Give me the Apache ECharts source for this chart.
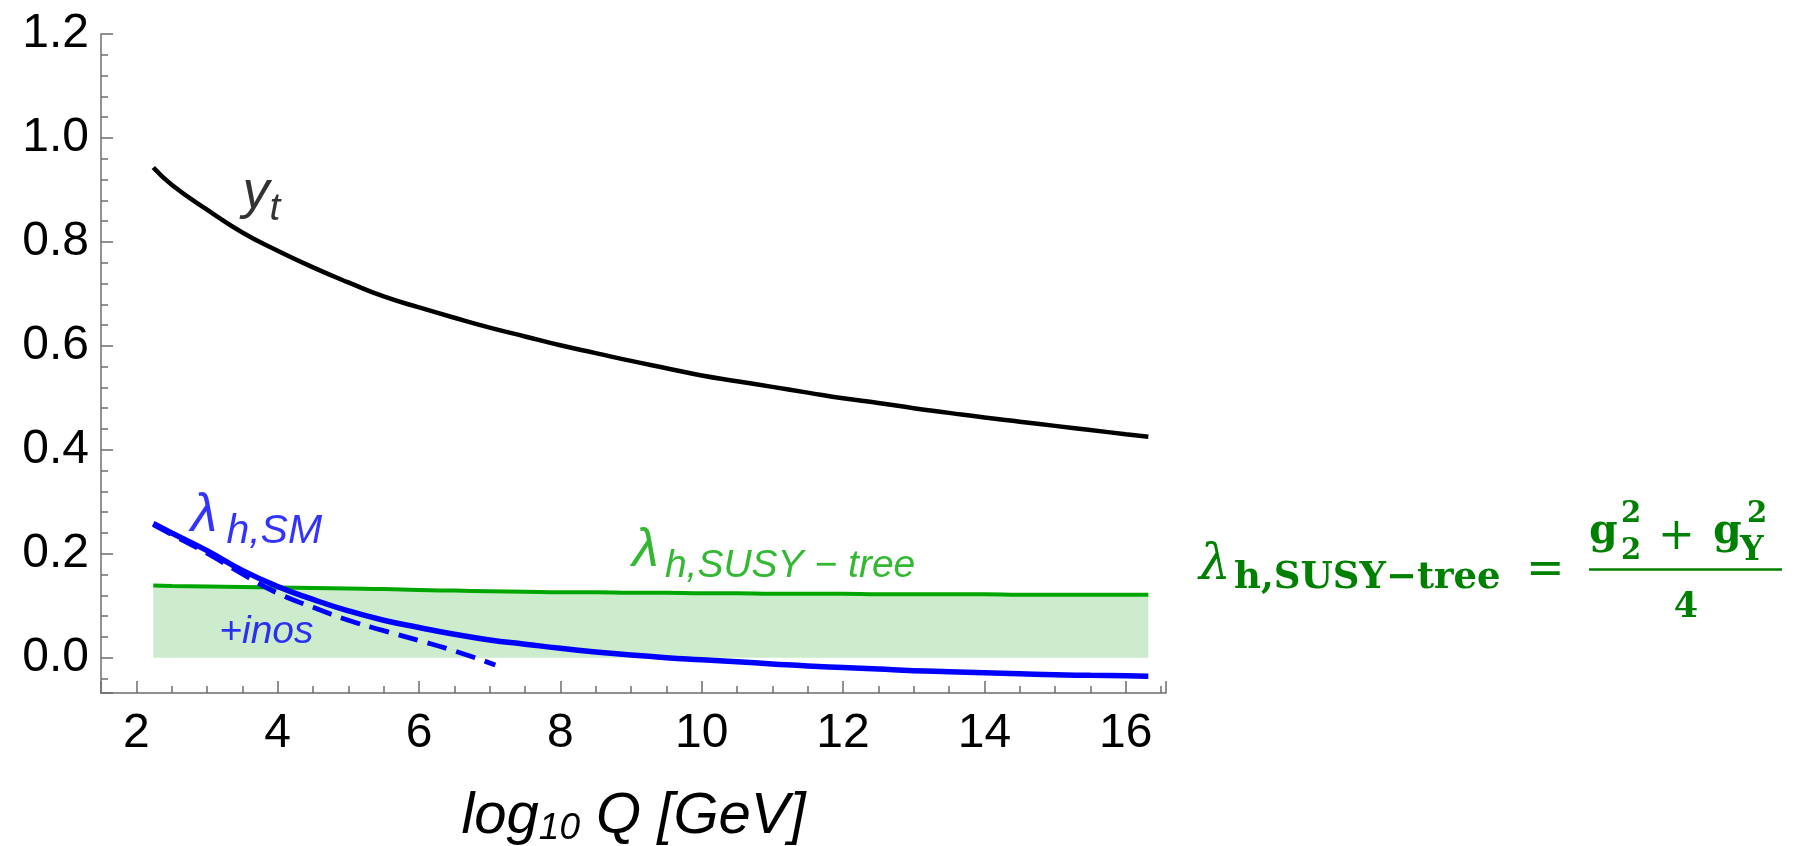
<!DOCTYPE html>
<html>
<head>
<meta charset="utf-8">
<script src="https://cdn.jsdelivr.net/npm/echarts@6/dist/echarts.min.js"></script>
<style>
  html, body { margin: 0; padding: 0; background: #ffffff; }
  #chart { width: 1810px; height: 846px; }
</style>
</head>
<body>
<div id="chart"></div>
<script>
// Running couplings versus the renormalisation scale log10(Q / GeV)
const logQ = [2.24, 2.5, 3.0, 3.5, 4.0, 4.5, 5.0, 5.5, 6.0, 6.5, 7.0, 7.5, 8.0, 8.5, 9.0,
              9.5, 10.0, 10.5, 11.0, 11.5, 12.0, 12.5, 13.0, 13.5, 14.0, 14.5, 15.0, 15.5, 16.0, 16.32];

// top Yukawa coupling y_t
const yTop = [0.943, 0.910, 0.862, 0.818, 0.783, 0.751, 0.722, 0.695, 0.674, 0.654, 0.635, 0.618, 0.601, 0.586, 0.571,
              0.557, 0.543, 0.532, 0.521, 0.510, 0.499, 0.490, 0.480, 0.471, 0.462, 0.454, 0.446, 0.438, 0.430, 0.425];

// SM Higgs quartic
const lambdaSM = [0.258, 0.240, 0.206, 0.168, 0.137, 0.112, 0.090, 0.072, 0.058, 0.045, 0.034, 0.026, 0.018, 0.011, 0.005,
                  0.000, -0.004, -0.008, -0.012, -0.016, -0.019, -0.022, -0.025, -0.027, -0.029, -0.031, -0.033, -0.034, -0.035, -0.036];

// tree-level SUSY boundary value (g2^2 + gY^2)/4
const lambdaTree = [0.139, 0.138, 0.137, 0.136, 0.135, 0.134, 0.133, 0.132, 0.130, 0.129, 0.128, 0.127, 0.126, 0.126, 0.125,
                    0.125, 0.124, 0.124, 0.123, 0.123, 0.123, 0.122, 0.122, 0.122, 0.122, 0.121, 0.121, 0.121, 0.121, 0.121];

// SM quartic with light higgsinos/gauginos added
const logQInos = [2.24, 2.5, 3.0, 3.5, 4.0, 4.5, 5.0, 5.5, 6.0, 6.5, 7.08];
const lambdaInos = [0.256, 0.237, 0.201, 0.161, 0.124, 0.097, 0.072, 0.052, 0.033, 0.013, -0.014];

const pairs = (xs, ys) => xs.map((x, i) => [x, ys[i]]);

const SANS = '"Liberation Sans", Arial, sans-serif';
const SERIF = '"DejaVu Serif", serif';
const BLUE = '#0000ff';
const GREEN = '#00a600';
const DARK_GREEN = '#008000';
const AXIS_GRAY = '#6e6e6e';

// rich-text styles for a symbol with a lowered subscript
function symbolRich(color, mainSize, subSize, subDrop, gap) {
  return {
    m: { fontFamily: SANS, fontStyle: 'italic', fontSize: mainSize, lineHeight: mainSize + 4, color: color, verticalAlign: 'middle' },
    s: { fontFamily: SANS, fontStyle: 'italic', fontSize: subSize, lineHeight: subSize, color: color,
         padding: [subDrop, 0, 0, gap], verticalAlign: 'middle' }
  };
}

function formulaText(x, y, text, font, align) {
  return {
    type: 'text', x: x, y: y, silent: true,
    style: { text: text, font: font, fill: DARK_GREEN, align: align || 'left', verticalAlign: 'middle' }
  };
}

const chart = echarts.init(document.getElementById('chart'), null, { renderer: 'canvas' });

const axisLineStyle = { color: AXIS_GRAY, width: 1.5 };

const option = {
  animation: false,
  backgroundColor: '#ffffff',
  grid: { left: 101, right: 644, top: 34, bottom: 153, containLabel: false, outerBoundsMode: 'none' },
  xAxis: {
    type: 'value',
    min: 1.5,
    max: 16.57,
    splitNumber: 7,
    name: '{m|log}{s|10}{m| Q [GeV]}',
    nameLocation: 'middle',
    nameGap: 91,
    nameTextStyle: {
      rich: {
        m: { fontFamily: SANS, fontStyle: 'italic', fontSize: 58, lineHeight: 66, color: '#000', verticalAlign: 'middle' },
        s: { fontFamily: SANS, fontStyle: 'italic', fontSize: 37, lineHeight: 37, color: '#000', padding: [24, 0, 0, 0], verticalAlign: 'middle' }
      }
    },
    axisLine: { show: true, onZero: false, lineStyle: axisLineStyle },
    axisTick: { show: true, inside: true, length: 12, lineStyle: axisLineStyle },
    minorTick: { show: true, splitNumber: 4, length: 7, lineStyle: axisLineStyle },
    axisLabel: { fontFamily: SANS, fontSize: 48, color: '#000', margin: 17, showMinLabel: false, showMaxLabel: false },
    splitLine: { show: false }
  },
  yAxis: {
    type: 'value',
    min: -0.068,
    max: 1.2,
    splitNumber: 6,
    axisLine: { show: true, onZero: false, lineStyle: axisLineStyle },
    axisTick: { show: true, inside: true, length: 12, lineStyle: axisLineStyle },
    minorTick: { show: true, splitNumber: 5, length: 7, lineStyle: axisLineStyle },
    axisLabel: {
      fontFamily: SANS, fontSize: 48, color: '#000', margin: 12, showMinLabel: false,
      formatter: v => v.toFixed(1)
    },
    splitLine: { show: false }
  },
  series: [
    {
      type: 'line', name: 'lambda SUSY tree',
      data: pairs(logQ, lambdaTree),
      symbol: 'none', smooth: true,
      lineStyle: { color: GREEN, width: 4 },
      areaStyle: { color: '#cdeccd', opacity: 1 },
      z: 2
    },
    {
      type: 'line', name: 'y_t',
      data: pairs(logQ, yTop),
      symbol: 'none', smooth: true,
      lineStyle: { color: '#000000', width: 4.5 },
      z: 3
    },
    {
      type: 'line', name: 'lambda SM + inos',
      data: pairs(logQInos, lambdaInos),
      symbol: 'none', smooth: true,
      lineStyle: { color: BLUE, width: 4.8, type: [20, 10] },
      z: 4
    },
    {
      type: 'line', name: 'lambda SM',
      data: pairs(logQ, lambdaSM),
      symbol: 'none', smooth: true,
      lineStyle: { color: BLUE, width: 5.5 },
      z: 5
    },
    {
      type: 'scatter', name: 'annotations',
      symbolSize: 0, silent: true, z: 10,
      label: { show: true, position: 'inside' },
      data: [
        { value: [3.77, 0.895], label: { formatter: '{m|y}{s|t}', rich: symbolRich('#000', 54, 39, 34, 0) } },
        { value: [3.70, 0.2717], label: { formatter: '{m|λ}{s|h,SM}', rich: symbolRich(BLUE, 54, 41, 30, 9) } },
        { value: [11.02, 0.205], label: { formatter: '{m|λ}{s|h,SUSY − tree}', rich: symbolRich(GREEN, 54, 39, 30, 6) } },
        { value: [3.84, 0.050], label: { formatter: '+inos', fontFamily: SANS, fontStyle: 'italic', fontSize: 39, color: BLUE } }
      ]
    }
  ],
  graphic: {
    elements: [
      // λ_{h,SUSY-tree} = (g2^2 + gY^2) / 4
      formulaText(1199, 566, 'λ', 'italic 50px ' + SERIF),
      formulaText(1234, 578, 'h,SUSY−tree', 'bold 37px ' + SERIF),
      formulaText(1526, 571, '=', '46px ' + SERIF),
      { type: 'line', silent: true, shape: { x1: 1589, y1: 569.5, x2: 1782, y2: 569.5 }, style: { stroke: DARK_GREEN, lineWidth: 2.4 } },
      formulaText(1589, 532, 'g', 'bold 41px ' + SERIF),
      formulaText(1621, 514, '2', 'bold 29px ' + SERIF),
      formulaText(1621, 551, '2', 'bold 29px ' + SERIF),
      formulaText(1658, 538, '+', '44px ' + SERIF),
      formulaText(1713, 532, 'g', 'bold 41px ' + SERIF),
      formulaText(1747, 514, '2', 'bold 29px ' + SERIF),
      formulaText(1740, 551, 'Y', 'bold 33px ' + SERIF),
      formulaText(1686, 608, '4', 'bold 35px ' + SERIF, 'center')
    ]
  }
};

chart.setOption(option);
</script>
</body>
</html>
